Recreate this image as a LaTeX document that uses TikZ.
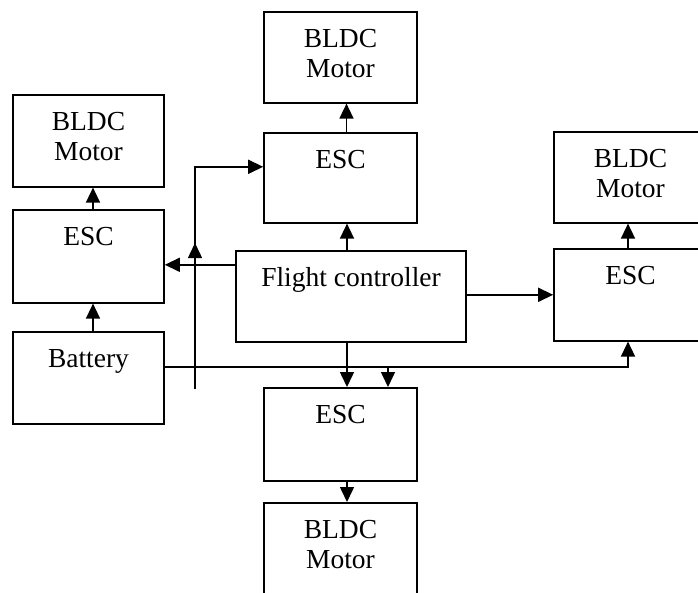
\documentclass[tikz,border=0pt]{standalone}
\usepackage{fontspec}
\setmainfont{Liberation Serif}
\usetikzlibrary{arrows.meta}
\newcommand\twolines[2]{\vtop{\baselineskip=30pt\halign{\hfil##\hfil\cr #1\cr #2\cr}}}
\begin{document}
\begin{tikzpicture}[x=1pt,y=-1pt,
  box/.style 2 args={draw, line width=1.6pt, rectangle, anchor=north,
    inner sep=0pt, minimum width=#1pt, text height=36pt, text depth=#2pt,
    font=\fontsize{27.5}{30}\selectfont},
  ln/.style={line width=1.5pt},
  arr/.style={line width=1.5pt, -{Triangle[length=15pt,width=14pt]}}]
\clip (0,0) rectangle (698,592);
\fill[white] (0,0) rectangle (698,592);
% boxes
\node[box={151}{56}] (lm) at (88.5,94) {\twolines{BLDC}{Motor}};
\node[box={151}{57}] (le) at (88.5,209) {ESC};
\node[box={151}{56}] (bat) at (88.5,331) {Battery};
\node[box={153}{55}] (tm) at (340.5,11) {\twolines{BLDC}{Motor}};
\node[box={153}{54}] (te) at (340.5,132) {ESC};
\node[box={230}{55}] (fc) at (351,250) {Flight controller};
\node[box={153}{55}] (rm) at (630.5,131) {\twolines{BLDC}{Motor}};
\node[box={153}{56}] (re) at (630.5,248) {ESC};
\node[box={153}{57}] (be) at (340.5,387) {ESC};
\node[box={153}{57}] (bm) at (340.5,502) {\twolines{BLDC}{Motor}};
% connectors
\draw[arr] ([xshift=4.5pt]le.north) -- ([xshift=4.5pt]lm.south);
\draw[arr] ([xshift=4.5pt]bat.north) -- ([xshift=4.5pt]le.south);
\draw[arr] ([xshift=6pt]te.north) -- ([xshift=6pt]tm.south);
\coordinate (c1) at ([xshift=-4pt]fc.north);
\draw[arr] (c1) -- (c1 |- te.south);
\coordinate (c2) at ([xshift=-4pt]fc.south);
\draw[arr] (c2) -- (c2 |- be.north);
\coordinate (c3) at ([xshift=6.5pt]be.south);
\draw[arr] (c3) -- (c3 |- bm.north);
\coordinate (c4) at ([xshift=-2.5pt]re.north);
\draw[arr] (c4) -- (c4 |- rm.south);
\coordinate (lin) at ([yshift=-8.5pt]le.east);
\draw[arr] (lin -| fc.west) -- (lin);
\draw[arr] (fc.east |- re.west) -- (re.west);
\coordinate (bl) at ([yshift=11pt]bat.east);
\coordinate (c5) at ([xshift=-2.5pt]re.south);
\draw[arr] (bl) -| (c5);
\coordinate (c6) at ([xshift=47.5pt]be.north);
\draw[arr] (bl -| c6) -- (c6);
\coordinate (vb) at (195,389);
\coordinate (vm) at (195,243);
\coordinate (tin) at ([yshift=11pt]te.west);
\draw[arr] (vb) |- (tin);
\draw[arr] (vb) -- (vm);
\end{tikzpicture}
\end{document}
